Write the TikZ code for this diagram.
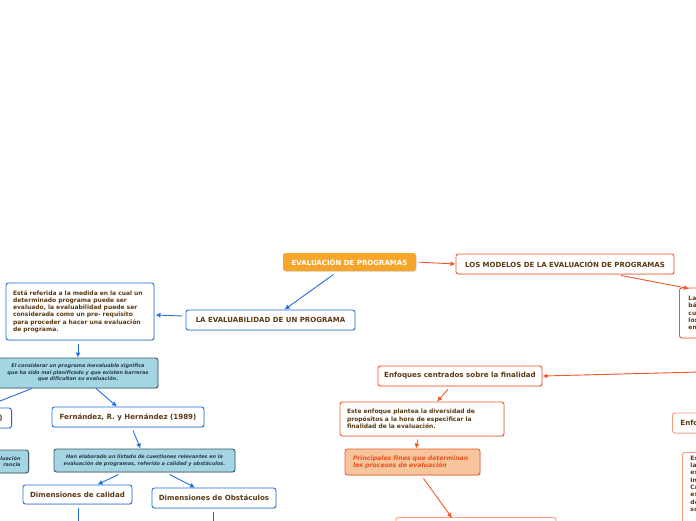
\documentclass[tikz,border=0pt]{standalone}
\usepackage{fontspec}
\setmainfont{DejaVu Sans}
\usetikzlibrary{arrows.meta,calc,positioning,shadows}
\definecolor{ink}{HTML}{5C3A14}
\definecolor{rootorange}{HTML}{F7A62A}
\definecolor{modelred}{HTML}{F0582A}
\definecolor{softred}{HTML}{F59A7E}
\definecolor{linkblue}{HTML}{1F6FDF}
\definecolor{notecyan}{HTML}{A3D5E3}
\definecolor{noteedge}{HTML}{3E5864}
\definecolor{noteink}{HTML}{2A3A44}
\definecolor{peach}{HTML}{F6C59C}
\definecolor{finesred}{HTML}{F04E1C}
\newcommand{\capsfont}{\fontsize{7.0}{8}\selectfont\bfseries}
\newcommand{\headfont}{\fontsize{7.1}{8}\selectfont\bfseries}
\newcommand{\bodyfont}{\fontsize{6.0}{7.3}\selectfont\bfseries}
\newcommand{\notefont}{\fontsize{4.95}{6.5}\selectfont\bfseries\itshape}
\newcommand{\finesfont}{\fontsize{6.2}{7.4}\selectfont\bfseries\itshape}

\begin{document}
\begin{tikzpicture}[x=1pt,y=-1pt,>={Latex[length=5pt,width=5pt]},
  box/.style={rounded corners=2.5pt,line width=0.9pt,inner sep=0pt,text=ink,
    drop shadow={shadow xshift=0.7pt,shadow yshift=-0.9pt,opacity=0.25}},
  bluebox/.style={box,draw=linkblue,fill=white},
  redbox/.style={box,draw=modelred,fill=white},
  softbox/.style={box,draw=softred,fill=white},
  notebox/.style={box,draw=noteedge,fill=notecyan,text=noteink,font=\notefont},
  rootbox/.style={box,draw=none,fill=rootorange,text=white,font=\capsfont},
  finesbox/.style={box,draw=modelred,fill=peach,text=finesred,font=\finesfont},
  bluearrow/.style={->,draw=linkblue,line width=0.9pt},
  redarrow/.style={->,draw=modelred,line width=0.9pt}]
  \useasboundingbox (0,0) rectangle (696,520);
  \clip (0,0) rectangle (696,520);

  % root and the two branches
  \node[rootbox,minimum width=133,minimum height=18] (eval) at (349.5,262) {EVALUACIÓN DE PROGRAMAS};
  \node[redbox,font=\capsfont,minimum width=218,minimum height=20] (modelos) at (565,264) {LOS MODELOS DE LA EVALUACIÓN DE PROGRAMAS};
  \node[bluebox,font=\capsfont,minimum width=169,minimum height=20] (evaluab) at (270.5,320) {LA EVALUABILIDAD DE UN PROGRAMA};

  % blue branch
  \node[bluebox,font=\bodyfont,text width=134,inner xsep=7,align=left,minimum height=57] (referida) at (80,311.5)
    {Está referida a la medida en la cual un\\determinado programa puede ser\\evaluado, la evaluabilidad puede ser\\considerada como un pre- requisito\\para proceder a hacer una evaluación\\de programa.};
  \node[notebox,text width=156,inner xsep=2,align=center,minimum height=30] (considerar) at (78,373)
    {El considerar un programa inevaluable significa\\que ha sido mal planificado y que existen barreras\\que dificultan su evaluación.};
  \node[bluebox,font=\headfont,anchor=east,text width=40,inner xsep=9,align=right,minimum height=20] (paren) at (12,418) {)};
  \node[bluebox,font=\headfont,minimum width=152,minimum height=20] (fernandez) at (128,417) {Fernández, R. y Hernández (1989)};
  \node[notebox,anchor=east,text width=40,inner xsep=8,align=right,minimum height=23] (tipos) at (29,461.5) {luación\\rancia};
  \node[notebox,text width=177,inner xsep=2,align=center,minimum height=23] (elaborado) at (144.5,460.5)
    {Han elaborado un listado de cuestiones relevantes en la\\evaluación de programas, referido a calidad y obstáculos.};
  \node[bluebox,font=\headfont,minimum width=109,minimum height=19] (calidad) at (77.5,494.5) {Dimensiones de calidad};
  \node[bluebox,font=\headfont,minimum width=124,minimum height=20] (obstaculos) at (214,498) {Dimensiones de Obstáculos};
  \coordinate (offleft) at (-10,405);
  \coordinate (calidadend) at (78,526);
  \coordinate (obstaculosend) at (213,526);

  % red branch
  \node[redbox,font=\bodyfont,anchor=west,text width=40,inner xsep=9,align=left,minimum height=50] (labasica) at (679,313)
    {La\\bá\\cua\\los\\em};
  \node[redbox,font=\headfont,minimum width=164,minimum height=20] (enfoques) at (460,376) {Enfoques centrados sobre la finalidad};
  \node[redbox,font=\bodyfont,text width=150,inner xsep=7,align=left,minimum height=34] (esteenf) at (422,419)
    {Este enfoque plantea la diversidad de\\propósitos a la hora de especificar la\\finalidad de la evaluación.};
  \node[finesbox,text width=119,inner xsep=8,align=left,minimum height=26] (fines) at (412.5,462)
    {Principales fines que determinan\\los procesos de evaluación};
  \node[softbox,anchor=north,minimum width=160,minimum height=40] (bottombox) at (476,517) {};
  \node[softbox,font=\headfont,anchor=west,text width=40,inner xsep=8,align=left,minimum height=20] (enfo) at (672,423) {Enfo};
  \node[softbox,font=\bodyfont,anchor=north west,text width=40,inner xsep=8,inner ysep=3.5,align=left] (esbox) at (682,452)
    {Es\\la\\es\\In\\Cr\\es\\de\\so\\\mbox{}\\\mbox{}};
  \coordinate (rightin) at (700,372);

  % connectors
  \draw[redarrow,shorten <=3pt] (eval.east) -- (modelos.west);
  \draw[bluearrow] ($(eval.south)+(-16,3)$) -- ($(evaluab.north)+(14,0)$);
  \draw[redarrow] ($(modelos.south)+(56,1)$) -- ($(labasica.north west)+(10,1)$);
  \draw[bluearrow] ($(evaluab.west)+(-3,-4)$) -- ($(referida.east)+(1,3.5)$);
  \draw[bluearrow] ($(referida.south)+(-2,4)$) -- ($(considerar.north)+(0,0)$);
  \draw[linkblue,line width=0.9pt] ($(considerar.south)+(-46,0)$) -- (offleft);
  \draw[bluearrow] ($(considerar.south)+(18,0)$) -- ($(fernandez.north)+(-11,0)$);
  \draw[bluearrow] ($(fernandez.south)+(5,3)$) -- ($(elaborado.north)+(-4,0)$);
  \draw[bluearrow] ($(elaborado.south)+(-26,2)$) -- ($(calidad.north)+(20,0)$);
  \draw[bluearrow] ($(elaborado.south)+(25,2)$) -- ($(obstaculos.north)+(-19,0)$);
  \draw[linkblue,line width=0.9pt] ($(calidad.south)+(0.5,4)$) -- (calidadend);
  \draw[linkblue,line width=0.9pt] ($(obstaculos.south)+(-1,4)$) -- (obstaculosend);
  \draw[redarrow] (rightin) -- (enfoques.east);
  \draw[redarrow] ($(enfoques.south)+(-12,3)$) -- ($(esteenf.north)+(15,0)$);
  \draw[redarrow] ($(esteenf.south)+(-4,3)$) -- ($(fines.north)+(3.5,0)$);
  \draw[redarrow] ($(fines.south)+(11,3)$) -- ($(bottombox.north)+(-24,1)$);
\end{tikzpicture}
\end{document}
